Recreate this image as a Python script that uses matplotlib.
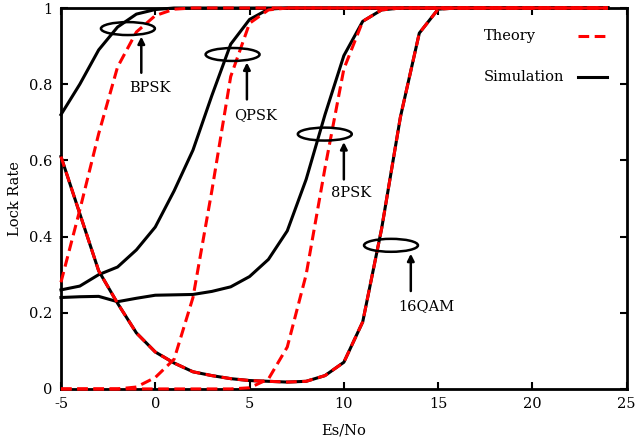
import numpy as np
import matplotlib.pyplot as plt
from matplotlib.patches import Ellipse

# Es/No points (dB)
snr = np.arange(-5, 25)

# simulation (black)
bpsk_sim = [0.72, 0.80, 0.89, 0.95, 0.984, 0.996, 1.0] + [1.0] * 23
qpsk_sim = [0.26, 0.27, 0.30, 0.32, 0.365, 0.425, 0.52, 0.627, 0.77, 0.905, 0.97, 0.997, 1.0] + [1.0] * 17
psk8_sim = [0.24, 0.242, 0.243, 0.229, 0.238, 0.246, 0.247, 0.248, 0.256, 0.268, 0.295, 0.34,
            0.415, 0.55, 0.72, 0.875, 0.965, 0.995, 1.0] + [1.0] * 11
qam16_sim = [0.61, 0.46, 0.31, 0.225, 0.147, 0.097, 0.068, 0.045, 0.035, 0.027, 0.022, 0.02,
             0.018, 0.02, 0.035, 0.07, 0.176, 0.42, 0.714, 0.934, 0.997, 1.0] + [1.0] * 8

# theory (red dashed)
bpsk_th = [0.28, 0.47, 0.67, 0.845, 0.937, 0.98, 0.997, 1.0] + [1.0] * 22
qpsk_th = [0.0, 0.0, 0.0, 0.0, 0.005, 0.03, 0.078, 0.24, 0.52, 0.82, 0.96, 0.995, 1.0] + [1.0] * 17
psk8_th = [0.0] * 10 + [0.003, 0.026, 0.11, 0.30, 0.58, 0.84, 0.965, 0.995, 1.0] + [1.0] * 11
qam16_th = [0.61, 0.46, 0.31, 0.225, 0.147, 0.097, 0.068, 0.045, 0.035, 0.027, 0.022, 0.02,
            0.018, 0.02, 0.035, 0.07, 0.176, 0.42, 0.714, 0.934, 0.997, 1.0] + [1.0] * 8

# annotation: label, ellipse centre, arrow x, arrow tail/head y, label pos
marks = [
    ("BPSK", (-1.45, 0.946), -0.74, 0.83, 0.925, (-0.3, 0.79)),
    ("QPSK", (4.1, 0.878), 4.86, 0.76, 0.857, (5.3, 0.72)),
    ("8PSK", (8.99, 0.669), 10.0, 0.55, 0.648, (10.4, 0.514)),
    ("16QAM", (12.5, 0.377), 13.55, 0.257, 0.355, (14.35, 0.218)),
]

plt.rcParams['font.family'] = ['DejaVu Serif']
plt.rcParams['axes.unicode_minus'] = False
fs = 10.5

fig = plt.figure(figsize=(6.35, 4.45), dpi=100)
ax = fig.add_axes([0.096, 0.126, 0.891, 0.856])

for sim in [bpsk_sim, qpsk_sim, psk8_sim, qam16_sim]:
    ax.plot(snr, sim, color="black", linewidth=2.2, clip_on=False, zorder=3)
for th in [bpsk_th, qpsk_th, psk8_th, qam16_th]:
    ax.plot(snr, th, color="#ff0000", linewidth=2.2, linestyle=(0, (3.5, 1.8)),
            clip_on=False, zorder=4)

for name, c, ax_x, y0, y1, tp in marks:
    ax.add_patch(Ellipse(c, 2.86, 0.034, fill=False, edgecolor="black", linewidth=1.8, zorder=5))
    ax.annotate("", xy=(ax_x, y1), xytext=(ax_x, y0),
                arrowprops=dict(arrowstyle="-|>", color="black", lw=1.8,
                                mutation_scale=10, shrinkA=0, shrinkB=0), zorder=5)
    ax.text(tp[0], tp[1], name, ha="center", va="center", fontsize=fs)

# legend gnuplot style
ax.text(17.4, 0.927, "Theory", ha="left", va="center", fontsize=fs)
ax.plot([22.4, 23.9], [0.927, 0.927], color="#ff0000", linewidth=2.2, linestyle=(0, (3.5, 1.8)))
ax.text(17.4, 0.82, "Simulation", ha="left", va="center", fontsize=fs)
ax.plot([22.4, 23.95], [0.82, 0.82], color="black", linewidth=2.2)

ax.set_xlim(-5, 25)
ax.set_ylim(0, 1)
ax.set_xticks([-5, 0, 5, 10, 15, 20, 25])
ax.set_yticks([0, 0.2, 0.4, 0.6, 0.8, 1])
ax.set_yticklabels(["0", "0.2", "0.4", "0.6", "0.8", "1"])
ax.tick_params(direction="in", top=True, right=True, length=5, width=1.5, labelsize=fs, pad=6)
for s in ax.spines.values():
    s.set_linewidth(2)
ax.set_xlabel("Es/No", fontsize=fs, labelpad=9)
ax.set_ylabel("Lock Rate", fontsize=fs, labelpad=5)

fig.savefig("out.png", dpi=100)
